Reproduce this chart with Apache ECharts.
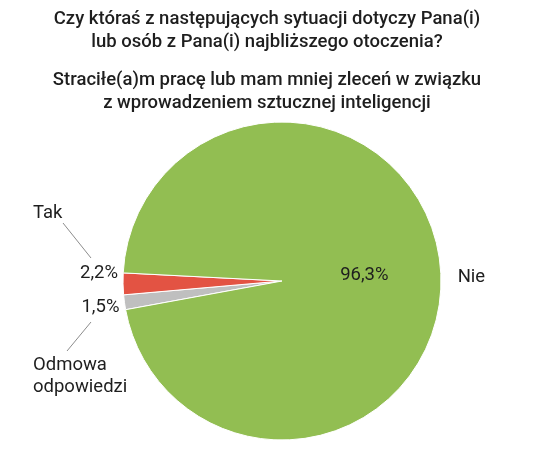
<!DOCTYPE html>
<html><head><meta charset="utf-8">
<script src="https://cdn.jsdelivr.net/npm/echarts@6/dist/echarts.min.js"></script>
<style>html,body{margin:0;padding:0;background:#fff}#c{width:534px;height:454px}</style>
</head><body><div id="c"></div>
<script>
const titleLines = ['Czy któraś z następujących sytuacji dotyczy Pana(i)', 'lub osób z Pana(i) najbliższego otoczenia?'];
const subtitleLines = ['Straciłe(a)m pracę lub mam mniej zleceń w związku', 'z wprowadzeniem sztucznej inteligencji'];
const categories = ['Odmowa odpowiedzi', 'Tak', 'Nie'];
const values = [1.5, 2.2, 96.3];
const colors = ['#bfbfbf', '#e35343', '#92be52'];

const CX = 282, CY = 281, R = 159, START = 190.4;
const FONT = 'Roboto';
const TXT = '#1e1e1e';
const LBL = 18.5;
const fmtPct = v => v.toFixed(1).replace('.', ',') + '%';
const NIE = categories.indexOf('Nie');
const TAK = categories.indexOf('Tak');
const ODM = categories.indexOf('Odmowa odpowiedzi');
const data = categories.map((c, i) => ({ name: c, value: values[i] }));

const chart = echarts.init(document.getElementById('c'), null, { renderer: 'canvas' });
const titleStyle = { fontFamily: FONT, fontSize: 18.5, fontWeight: 500, color: TXT, lineHeight: 23 };
chart.setOption({
  animation: false,
  title: [
    { text: titleLines.join('\n'), left: 'center', top: 3, textStyle: titleStyle },
    { text: subtitleLines.join('\n'), left: 'center', top: 64, textStyle: titleStyle }
  ],
  series: [
    {
      type: 'pie', center: [CX, CY], radius: R, startAngle: START, clockwise: true,
      avoidLabelOverlap: false, silent: true,
      itemStyle: { borderColor: '#fff', borderWidth: 1 },
      data: data.map((d, i) => ({
        name: d.name, value: d.value,
        itemStyle: { color: colors[i] },
        label: { position: i === NIE ? 'inside' : 'outside' }
      })),
      label: { formatter: p => fmtPct(p.value), fontFamily: FONT, fontSize: LBL, color: TXT, distanceToLabelLine: 5 },
      labelLine: { show: false, length: 0, length2: 0 },
      labelLayout: p => {
        if (p.dataIndex === NIE) return {};
        const off = p.dataIndex === TAK ? -11 : 5;
        return {
          x: p.labelRect.x + p.labelRect.width,
          y: p.labelRect.y + p.labelRect.height / 2 + off,
          align: 'right', verticalAlign: 'middle'
        };
      }
    },
    {
      type: 'pie', center: [CX, CY], radius: R, startAngle: START, clockwise: true,
      avoidLabelOverlap: false, silent: true,
      itemStyle: { color: 'transparent', borderWidth: 0 },
      data: data.map((d, i) => ({
        name: d.name, value: d.value,
        labelLine: { show: i !== NIE }
      })),
      label: {
        position: 'outside', formatter: p => p.name.replace(' ', '\n'),
        fontFamily: FONT, fontSize: LBL, color: TXT, lineHeight: 22, distanceToLabelLine: 5
      },
      labelLine: { length: 12, length2: 0, lineStyle: { color: '#8c8c8c', width: 1 } },
      labelLayout: p => {
        if (p.dataIndex === NIE) {
          return { x: p.labelRect.x, y: CY - 4, align: 'left', verticalAlign: 'middle' };
        }
        if (p.dataIndex === TAK) {
          return {
            x: CX - 249, y: CY - 68, align: 'left', verticalAlign: 'middle',
            labelLinePoints: [[CX - 191, CY - 23], [CX - 219, CY - 58]]
          };
        }
        return {
          x: CX - 249, y: CY + 95, align: 'left', verticalAlign: 'middle',
          labelLinePoints: [[CX - 191, CY + 41], [CX - 215, CY + 70]]
        };
      }
    }
  ]
});
</script></body></html>
